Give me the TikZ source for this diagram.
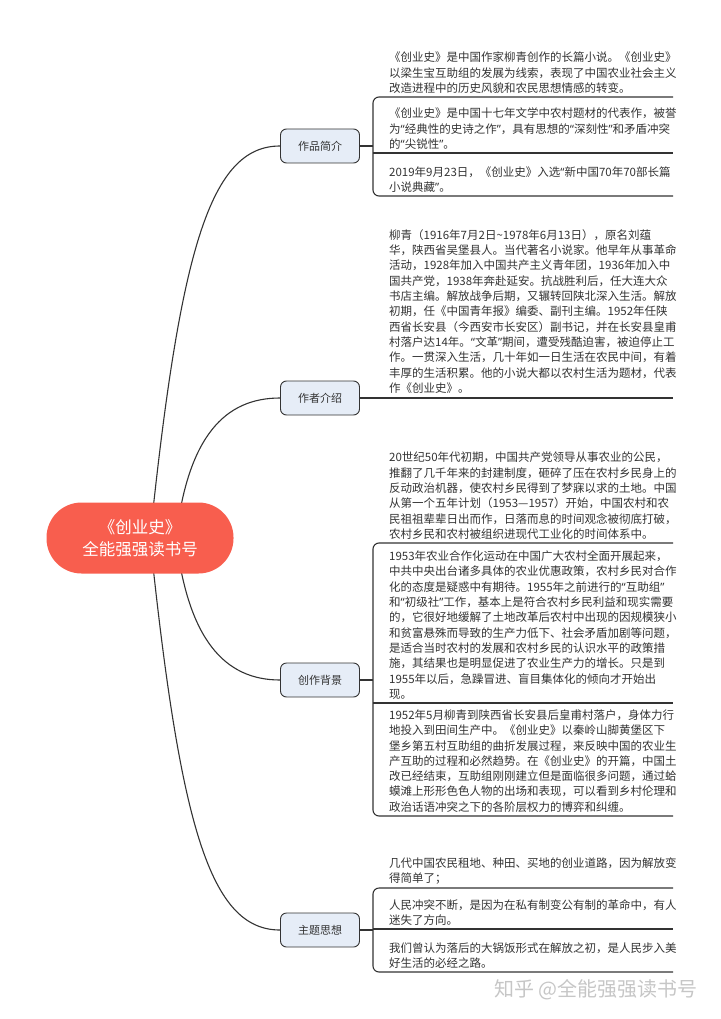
\documentclass[tikz,border=0pt]{standalone}
\usepackage{fontspec}
\newfontfamily\cjk{Noto Sans CJK SC}
\newfontfamily\quotefont{Noto Sans}
\newcommand{\qopen}{{\quotefont “}}
\newcommand{\qclose}{{\quotefont ”}}
\usetikzlibrary{backgrounds}
\definecolor{rootred}{RGB}{248,94,78}
\definecolor{topicblue}{RGB}{230,237,247}
\definecolor{inkgray}{RGB}{51,51,51}

\begin{document}
\begin{tikzpicture}[x=1pt,y=-1pt,
	rootbox/.style={fill=rootred,rounded corners=35pt,minimum width=187pt,minimum height=71pt,text=white,align=center,font=\cjk\fontsize{16.5}{22}\selectfont},
	topicbox/.style={draw=inkgray,fill=topicblue,rounded corners=6pt,minimum width=79pt,minimum height=34pt,line width=0.9pt,text=inkgray,font=\cjk\fontsize{11}{13}\selectfont},
	itemtext/.style={anchor=south west,inner sep=0pt,align=left,text=inkgray,font=\cjk\fontsize{11.5}{15.3}\selectfont},
	branch/.style={draw=inkgray,line width=1.1pt},
	bracket/.style={draw=inkgray,line width=1.1pt,rounded corners=6pt}]
			\useasboundingbox (0,0) rectangle (720,1019);
			
			\node[rootbox] (root) at (140,538) {《创业史》\\全能强强读书号};
			
			\node[topicbox] (work) at (320,146) {作品简介};
			\node[topicbox] (author) at (320,398) {作者介绍};
			\node[topicbox] (background) at (320,680) {创作背景};
			\node[topicbox] (theme) at (320,930) {主题思想};
			
			\coordinate (outer) at (150,538);
			\coordinate (inner) at (176,538);
			\begin{scope}[on background layer]
			\draw[branch] (outer) .. controls (180,250) and (210,146) .. (work.west);
			\draw[branch] (inner) .. controls (188,436) and (225,398) .. (author.west);
			\draw[branch] (inner) .. controls (188,640) and (225,680) .. (background.west);
			\draw[branch] (outer) .. controls (180,826) and (210,930) .. (theme.west);
			\end{scope}
			
			\draw[branch] (work.east) -- (373,146);
			\draw[bracket] (673,97) -- (373,97) -- (373,196) -- (673,196);
			\draw[bracket] (373,153) -- (673,153);
			\node[itemtext] (i11) at (389,93.5) {《创业史》是中国作家柳青创作的长篇小说。《创业史》\\以梁生宝互助组的发展为线索，表现了中国农业社会主义\\改造进程中的历史风貌和农民思想情感的转变。};
			\node[itemtext] (i12) at (389,149.5) {《创业史》是中国十七年文学中农村题材的代表作，被誉\\为\qopen 经典性的史诗之作\qclose ，具有思想的\qopen 深刻性\qclose 和矛盾冲突\\的\qopen 尖锐性\qclose 。};
			\node[itemtext] (i13) at (389,192.5) {2019年9月23日，《创业史》入选\qopen 新中国70年70部长篇\\小说典藏\qclose 。};
			
			\draw[branch] (author.east) -- (673,398);
			\node[itemtext] (i21) at (389,393.5) {柳青（1916年7月2日\textasciitilde 1978年6月13日），原名刘蕴\\华，陕西省吴堡县人。当代著名小说家。他早年从事革命\\活动，1928年加入中国共产主义青年团，1936年加入中\\国共产党，1938年奔赴延安。抗战胜利后，任大连大众\\书店主编。解放战争后期，又辗转回陕北深入生活。解放\\初期，任《中国青年报》编委、副刊主编。1952年任陕\\西省长安县（今西安市长安区）副书记，并在长安县皇甫\\村落户达14年。\qopen 文革\qclose 期间，遭受残酷迫害，被迫停止工\\作。一贯深入生活，几十年如一日生活在农民中间，有着\\丰厚的生活积累。他的小说大都以农村生活为题材，代表\\作《创业史》。};
			
			\draw[branch] (background.east) -- (373,680);
			\draw[bracket] (673,543) -- (373,543) -- (373,816) -- (673,816);
			\draw[bracket] (373,703) -- (673,703);
			\node[itemtext] (i31) at (389,539.5) {20世纪50年代初期，中国共产党领导从事农业的公民，\\推翻了几千年来的封建制度，砸碎了压在农村乡民身上的\\反动政治机器，使农村乡民得到了梦寐以求的土地。中国\\从第一个五年计划（1953—1957）开始，中国农村和农\\民祖祖辈辈日出而作，日落而息的时间观念被彻底打破，\\农村乡民和农村被组织进现代工业化的时间体系中。};
			\node[itemtext] (i32) at (389,699.5) {1953年农业合作化运动在中国广大农村全面开展起来，\\中共中央出台诸多具体的农业优惠政策，农村乡民对合作\\化的态度是疑惑中有期待。1955年之前进行的\qopen 互助组\qclose \\和\qopen 初级社\qclose 工作，基本上是符合农村乡民利益和现实需要\\的，它很好地缓解了土地改革后农村中出现的因规模狭小\\和贫富悬殊而导致的生产力低下、社会矛盾加剧等问题，\\是适合当时农村的发展和农村乡民的认识水平的政策措\\施，其结果也是明显促进了农业生产力的增长。只是到\\1955年以后，急躁冒进、盲目集体化的倾向才开始出\\现。};
			\node[itemtext] (i33) at (389,812.5) {1952年5月柳青到陕西省长安县后皇甫村落户，身体力行\\地投入到田间生产中。《创业史》以秦岭山脚黄堡区下\\堡乡第五村互助组的曲折发展过程，来反映中国的农业生\\产互助的过程和必然趋势。在《创业史》的开篇，中国土\\改已经结束，互助组刚刚建立但是面临很多问题，通过蛤\\蟆滩上形形色色人物的出场和表现，可以看到乡村伦理和\\政治话语冲突之下的各阶层权力的博弈和纠缠。};
			
			\draw[branch] (theme.east) -- (373,930);
			\draw[bracket] (673,888) -- (373,888) -- (373,972) -- (673,972);
			\draw[bracket] (373,929) -- (673,929);
			\node[itemtext] (i41) at (389,884.5) {几代中国农民租地、种田、买地的创业道路，因为解放变\\得简单了；};
			\node[itemtext] (i42) at (389,925.5) {人民冲突不断，是因为在私有制变公有制的革命中，有人\\迷失了方向。};
			\node[itemtext] (i43) at (389,968.5) {我们曾认为落后的大锅饭形式在解放之初，是人民步入美\\好生活的必经之路。};
			
			\node[text=gray!45,font=\cjk\fontsize{20}{20}\selectfont] (mark) at (596,990) {知乎 @全能强强读书号};
		\end{tikzpicture}
\end{document}
